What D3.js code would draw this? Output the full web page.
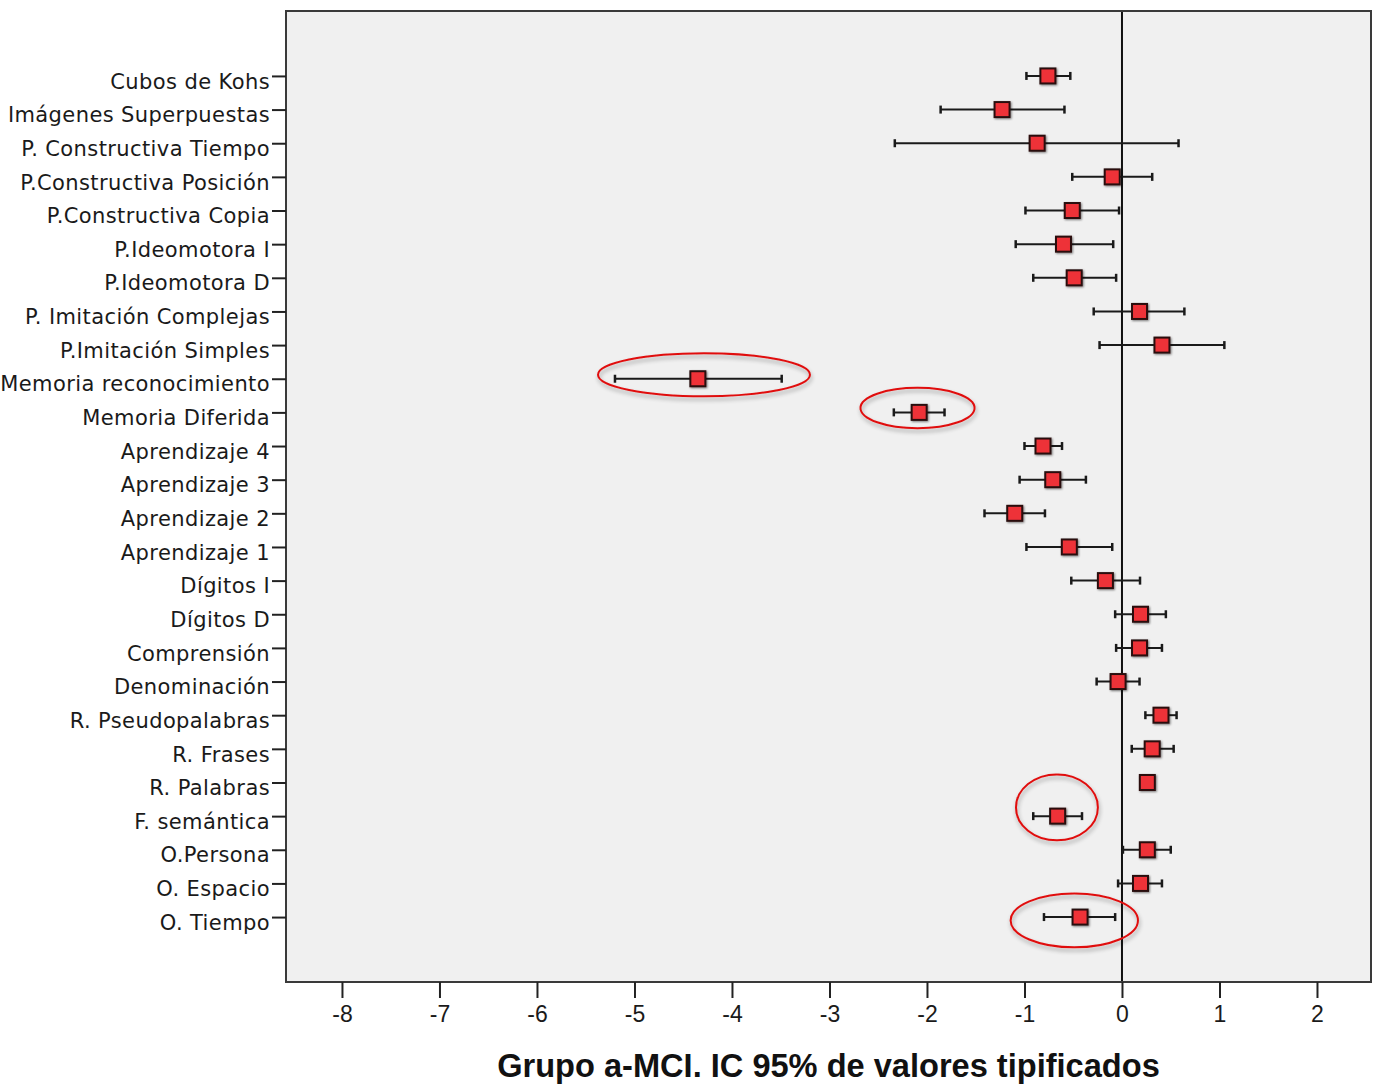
<!DOCTYPE html>
<html>
<head>
<meta charset="utf-8">
<script src="https://cdn.jsdelivr.net/npm/d3@7"></script>
<style>
  html, body { margin: 0; padding: 0; background: #ffffff; }
  svg { display: block; }
</style>
</head>
<body>
<svg id="chart" width="1380" height="1084"></svg>
<script>
// ---- Data ----
const categories = [
  "Cubos de Kohs", "Imágenes Superpuestas", "P. Constructiva Tiempo",
  "P.Constructiva Posición", "P.Constructiva Copia", "P.Ideomotora I",
  "P.Ideomotora D", "P. Imitación Complejas", "P.Imitación Simples",
  "Memoria reconocimiento", "Memoria Diferida", "Aprendizaje 4",
  "Aprendizaje 3", "Aprendizaje 2", "Aprendizaje 1", "Dígitos I",
  "Dígitos D", "Comprensión", "Denominación", "R. Pseudopalabras",
  "R. Frases", "R. Palabras", "F. semántica", "O.Persona",
  "O. Espacio", "O. Tiempo"
];
const means = [
  -0.76, -1.23, -0.87, -0.10, -0.51, -0.60, -0.49, 0.18, 0.41,
  -4.35, -2.08, -0.81, -0.71, -1.10, -0.54, -0.17, 0.19, 0.18,
  -0.04, 0.40, 0.31, 0.26, -0.66, 0.26, 0.19, -0.43
];
const lower = [
  -0.98, -1.86, -2.33, -0.51, -0.99, -1.09, -0.91, -0.29, -0.23,
  -5.20, -2.34, -1.00, -1.05, -1.41, -0.98, -0.52, -0.07, -0.06,
  -0.26, 0.24, 0.10, 0.26, -0.91, 0.01, -0.04, -0.80
];
const upper = [
  -0.53, -0.59, 0.58, 0.31, -0.03, -0.09, -0.06, 0.64, 1.05,
  -3.49, -1.82, -0.615, -0.37, -0.79, -0.10, 0.185, 0.45, 0.41,
  0.18, 0.56, 0.53, 0.26, -0.41, 0.50, 0.41, -0.07
];
const xTicks = [-8, -7, -6, -5, -4, -3, -2, -1, 0, 1, 2];
const xDomain = [-8.574, 2.554];
const axisTitle = "Grupo a-MCI. IC 95% de valores tipificados";

// Highlight annotations (hand-drawn ellipses): category, centre value, half-width in units
const hlCats = ["Memoria reconocimiento", "Memoria Diferida", "F. semántica", "O. Tiempo"];
const hlCenter = [-4.287, -2.097, -0.667, -0.489];
const hlHalfWidth = [1.087, 0.585, 0.42, 0.653];
const hlHalfHeight = [0.64, 0.60, 0.98, 0.80];   // in row steps
const hlShift = [-0.12, -0.13, -0.26, 0.10];     // in row steps

// ---- Layout ----
const svg = d3.select("#chart");
const plot = { left: 286, right: 1371, top: 11, bottom: 982 };

const x = d3.scaleLinear().domain(xDomain).range([plot.left, plot.right]);
const y = d3.scalePoint().domain(categories).range([plot.top, plot.bottom]).padding(1.93);

const rows = categories.map((c, i) => ({ cat: c, m: means[i], lo: lower[i], hi: upper[i] }));

// Background
svg.append("rect")
  .attr("x", plot.left).attr("y", plot.top)
  .attr("width", plot.right - plot.left).attr("height", plot.bottom - plot.top)
  .attr("fill", "#f0f0f0");

// Shadow filters
const defs = svg.append("defs");
const f = defs.append("filter").attr("id", "shadow").attr("x", "-20%").attr("y", "-20%").attr("width", "140%").attr("height", "160%");
f.append("feGaussianBlur").attr("in", "SourceAlpha").attr("stdDeviation", 2).attr("result", "b");
f.append("feOffset").attr("in", "b").attr("dx", 1).attr("dy", 3).attr("result", "o");
f.append("feComponentTransfer").attr("in", "o").attr("result", "o2")
  .append("feFuncA").attr("type", "linear").attr("slope", 0.35);
const fm = f.append("feMerge");
fm.append("feMergeNode").attr("in", "o2");
fm.append("feMergeNode").attr("in", "SourceGraphic");

const fs = defs.append("filter").attr("id", "mshadow").attr("x", "-30%").attr("y", "-30%").attr("width", "160%").attr("height", "160%");
fs.append("feGaussianBlur").attr("in", "SourceAlpha").attr("stdDeviation", 1).attr("result", "b");
fs.append("feOffset").attr("in", "b").attr("dx", 0.5).attr("dy", 0.5).attr("result", "o");
fs.append("feComponentTransfer").attr("in", "o").attr("result", "o2")
  .append("feFuncA").attr("type", "linear").attr("slope", 0.5);
const fsm = fs.append("feMerge");
fsm.append("feMergeNode").attr("in", "o2");
fsm.append("feMergeNode").attr("in", "SourceGraphic");

// Zero reference line
svg.append("line")
  .attr("x1", x(0)).attr("x2", x(0))
  .attr("y1", plot.top).attr("y2", plot.bottom)
  .attr("stroke", "#111").attr("stroke-width", 2);

// Error bars
const g = svg.append("g");
const capH = 4;
g.selectAll("line.bar").data(rows).join("line")
  .attr("class", "bar")
  .attr("x1", d => x(d.lo)).attr("x2", d => x(d.hi))
  .attr("y1", d => y(d.cat)).attr("y2", d => y(d.cat))
  .attr("stroke", "#1a1a1a").attr("stroke-width", 2);
g.selectAll("line.capl").data(rows.filter(d => d.hi > d.lo)).join("line")
  .attr("class", "capl")
  .attr("x1", d => x(d.lo)).attr("x2", d => x(d.lo))
  .attr("y1", d => y(d.cat) - capH).attr("y2", d => y(d.cat) + capH)
  .attr("stroke", "#1a1a1a").attr("stroke-width", 2.5);
g.selectAll("line.caph").data(rows.filter(d => d.hi > d.lo)).join("line")
  .attr("class", "caph")
  .attr("x1", d => x(d.hi)).attr("x2", d => x(d.hi))
  .attr("y1", d => y(d.cat) - capH).attr("y2", d => y(d.cat) + capH)
  .attr("stroke", "#1a1a1a").attr("stroke-width", 2.5);

// Markers
const ms = 15;
g.selectAll("rect.mk").data(rows).join("rect")
  .attr("class", "mk")
  .attr("x", d => x(d.m) - ms / 2).attr("y", d => y(d.cat) - ms / 2)
  .attr("width", ms).attr("height", ms)
  .attr("fill", "#ee3338").attr("stroke", "#2a1010").attr("stroke-width", 2)
  .attr("filter", "url(#mshadow)");

// Highlight ellipses
const step = y.step();
const hl = hlCats.map((c, i) => ({ cat: c, cx: hlCenter[i], hw: hlHalfWidth[i], hh: hlHalfHeight[i], dy: hlShift[i] }));
svg.append("g").selectAll("ellipse").data(hl).join("ellipse")
  .attr("cx", d => x(d.cx))
  .attr("cy", d => y(d.cat) + d.dy * step)
  .attr("rx", d => x(d.cx + d.hw) - x(d.cx))
  .attr("ry", d => d.hh * step)
  .attr("fill", "none").attr("stroke", "#e01010").attr("stroke-width", 2)
  .attr("filter", "url(#shadow)");

// Frame
svg.append("rect")
  .attr("x", plot.left).attr("y", plot.top)
  .attr("width", plot.right - plot.left).attr("height", plot.bottom - plot.top)
  .attr("fill", "none").attr("stroke", "#3a3a3a").attr("stroke-width", 2);

// Left axis
const yAxis = d3.axisLeft(y).tickSize(14).tickPadding(2).tickSizeOuter(0);
const ya = svg.append("g").attr("transform", `translate(${plot.left},0)`).call(yAxis);
ya.select(".domain").remove();
ya.selectAll(".tick line").attr("stroke", "#222").attr("stroke-width", 2);
ya.selectAll(".tick text")
  .attr("font-family", "DejaVu Sans, sans-serif")
  .attr("font-size", 21)
  .attr("letter-spacing", "0.4px")
  .attr("fill", "#1a1a1a")
  .attr("dy", "0.58em");

// Bottom axis
const xAxis = d3.axisBottom(x).tickValues(xTicks).tickFormat(d3.format("d")).tickSize(16).tickPadding(8).tickSizeOuter(0);
const xa = svg.append("g").attr("transform", `translate(0,${plot.bottom})`).call(xAxis);
xa.select(".domain").remove();
xa.selectAll(".tick line").attr("stroke", "#222").attr("stroke-width", 2);
xa.selectAll(".tick text")
  .attr("font-family", "Liberation Sans, Arial, sans-serif")
  .attr("font-size", 23)
  .attr("fill", "#1a1a1a")
  .text(d => d < 0 ? "-" + Math.abs(d) : String(d));

// Axis title
svg.append("text")
  .attr("x", (plot.left + plot.right) / 2)
  .attr("y", 1077)
  .attr("text-anchor", "middle")
  .attr("font-family", "Liberation Sans, Arial, sans-serif")
  .attr("font-weight", "bold")
  .attr("font-size", 32.6)
  .attr("fill", "#111")
  .text(axisTitle);
</script>
</body>
</html>
